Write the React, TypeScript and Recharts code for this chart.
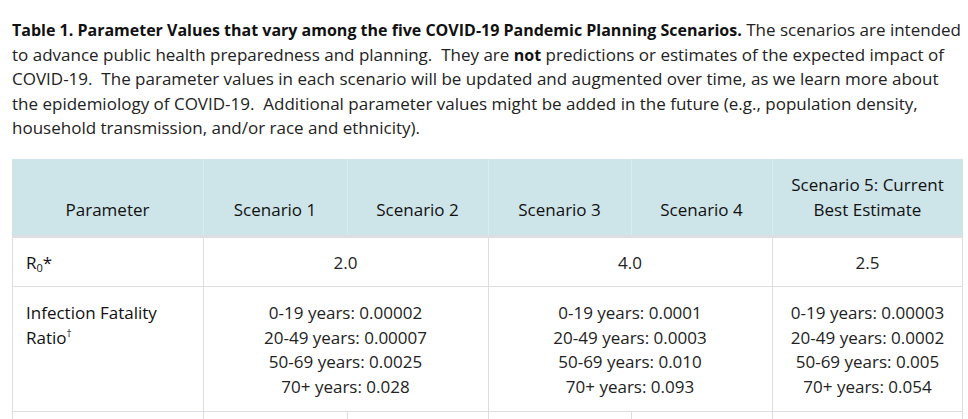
import React from "react";
import { ComposedChart, Customized } from "recharts";

// caption text, one entry per rendered line, [text, bold]
const captionLines: Array<Array<[string, boolean]>> = [
  [
    ["Table 1. Parameter Values that vary among the five COVID-19 Pandemic Planning Scenarios.", true],
    [" The scenarios are intended", false],
  ],
  [
    ["to advance public health preparedness and planning.  They are ", false],
    ["not", true],
    [" predictions or estimates of the expected impact of", false],
  ],
  [["COVID-19.  The parameter values in each scenario will be updated and augmented over time, as we learn more about", false]],
  [["the epidemiology of COVID-19.  Additional parameter values might be added in the future (e.g., population density,", false]],
  [["household transmission, and/or race and ethnicity).", false]],
];

const headerLabels = [
  ["Parameter"],
  ["Scenario 1"],
  ["Scenario 2"],
  ["Scenario 3"],
  ["Scenario 4"],
  ["Scenario 5: Current", "Best Estimate"],
];

const r0Values = ["2.0", "4.0", "2.5"];
const ageGroups = ["0-19 years", "20-49 years", "50-69 years", "70+ years"];
const ifrScenario12 = ["0.00002", "0.00007", "0.0025", "0.028"];
const ifrScenario34 = ["0.0001", "0.0003", "0.010", "0.093"];
const ifrScenario5 = ["0.00003", "0.0002", "0.005", "0.054"];

const FONT = "'Open Sans', 'Noto Sans', sans-serif";
const TEXT = "#222";
const BORDER = "#dcdee3";
const cols = [12, 203, 347, 488, 631, 772, 963];
const mid = (a: number, b: number) => (cols[a] + cols[b]) / 2;

function TableLayer() {
  const groups = [
    { x: mid(1, 3), vals: ifrScenario12 },
    { x: mid(3, 5), vals: ifrScenario34 },
    { x: mid(5, 6), vals: ifrScenario5 },
  ];
  const r0Pos = [mid(1, 3), mid(3, 5), mid(5, 6)];
  const ifrY = [319, 344, 368, 393];

  return (
    <g fontFamily={FONT} fontSize={17}>
      {captionLines.map((line, i) => (
        <text key={i} x={12} y={36 + i * 24.5} fill={TEXT} style={{ whiteSpace: "pre" }}>
          {line.map(([t, b], j) => (
            <tspan
              key={j}
              fontWeight={b ? 700 : 400}
              fontSize={b ? 16 : 17}
              fill={b ? "#111" : TEXT}
            >
              {t}
            </tspan>
          ))}
        </text>
      ))}

      {/* header */}
      <rect x={12} y={159} width={951} height={77} fill="#cde4e8" />
      {cols.slice(1, 6).map((x) => (
        <line key={x} x1={x + 0.5} x2={x + 0.5} y1={159} y2={236} stroke="#dbeaed" />
      ))}
      {headerLabels.map((lines, i) =>
        lines.map((t, j) => (
          <text
            key={`${i}-${j}`}
            x={mid(i, i + 1)}
            y={216 - (lines.length - 1 - j) * 25}
            textAnchor="middle"
            fill="#111"
          >
            {t}
          </text>
        ))
      )}
      <rect x={12} y={235} width={951} height={3} fill={BORDER} />

      {/* body grid */}
      {[286, 411].map((y) => (
        <line key={y} x1={12} x2={963} y1={y + 0.5} y2={y + 0.5} stroke={BORDER} />
      ))}
      {[12, 203, 488, 772, 962].map((x) => (
        <line key={x} x1={x + 0.5} x2={x + 0.5} y1={238} y2={419} stroke={BORDER} />
      ))}
      {[347, 631].map((x) => (
        <line key={x} x1={x + 0.5} x2={x + 0.5} y1={411} y2={419} stroke={BORDER} />
      ))}

      {/* R0 row */}
      <text x={26} y={269} fill="#111">
        R<tspan fontSize={11} dy={3}>0</tspan>
        <tspan dy={-3}>*</tspan>
      </text>
      {r0Values.map((v, i) => (
        <text key={v} x={r0Pos[i]} y={269} textAnchor="middle" fill={TEXT}>
          {v}
        </text>
      ))}

      {/* IFR row */}
      <text x={26} y={319} fill="#111">Infection Fatality</text>
      <text x={26} y={344} fill="#111">
        Ratio<tspan fontSize={10} dy={-7}>†</tspan>
      </text>
      {groups.map((g, gi) =>
        g.vals.map((v, i) => (
          <text key={`${gi}-${i}`} x={g.x} y={ifrY[i]} textAnchor="middle" fill={TEXT}>
            {`${ageGroups[i]}: ${v}`}
          </text>
        ))
      )}
    </g>
  );
}

export default function App() {
  return (
    <div style={{ width: 968, height: 419, background: "#fff" }}>
      <style>{"body{margin:0}"}</style>
      <ComposedChart width={968} height={419} margin={{ top: 0, right: 0, bottom: 0, left: 0 }}>
        <Customized component={TableLayer} />
      </ComposedChart>
    </div>
  );
}
